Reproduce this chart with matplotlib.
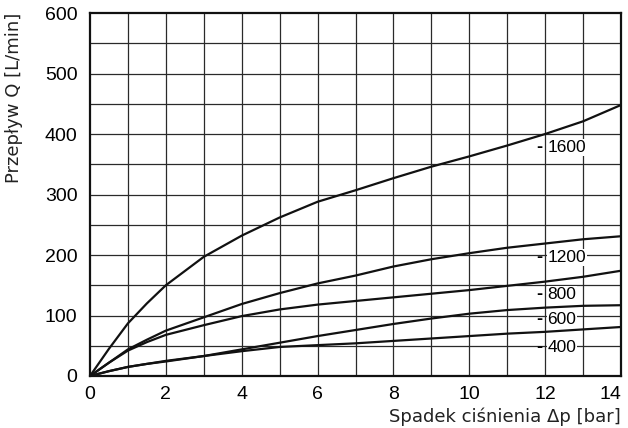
import matplotlib
matplotlib.use("Agg")
import matplotlib.pyplot as plt

# Pressure drop [bar] at which flow was read
dp = [0, 0.5, 1, 1.5, 2, 3, 4, 5, 6, 7, 8, 9, 10, 11, 12, 13, 14]

# Flow [L/min] for each valve size
q_1600 = [0, 45, 87, 120, 150, 197, 232, 262, 288, 307, 327, 346, 363, 381, 400, 421, 448]
q_1200 = [0, 22, 44, 60, 75, 97, 119, 137, 153, 166, 181, 193, 203, 212, 219, 226, 231]
q_800 = [0, 22, 42, 56, 68, 84, 99, 110, 118, 124, 130, 136, 142, 149, 156, 164, 174]
q_600 = [0, 8, 15, 20, 25, 33, 44, 55, 66, 76, 86, 95, 103, 109, 113, 116, 117]
q_400 = [0, 8, 15, 20, 24, 33, 41, 48, 51, 54, 58, 62, 66, 70, 73, 77, 81]

series_labels = ["1600", "1200", "800", "600", "400"]
series_values = [q_1600, q_1200, q_800, q_600, q_400]
label_y = [378, 196, 135, 94, 47]

x_ticks = [0, 2, 4, 6, 8, 10, 12, 14]
y_ticks = [0, 100, 200, 300, 400, 500, 600]

fig = plt.figure(figsize=(6.28, 4.28), dpi=100)
ax = fig.add_axes([0.1433, 0.1215, 0.8456, 0.8481])

ax.set_xlim(0, 14)
ax.set_ylim(0, 600)

# fine grid: every 1 bar and every 50 L/min
for gx in range(1, 14):
    ax.axvline(gx, color="#2a2a2a", lw=0.9, zorder=1)
for gy in range(50, 600, 50):
    ax.axhline(gy, color="#2a2a2a", lw=0.9, zorder=1)

for vals in series_values:
    ax.plot(dp, vals, color="#111111", lw=1.6, solid_capstyle="round", zorder=3)

for lab, ly in zip(series_labels, label_y):
    ax.text(11.76, ly, "-", fontsize=13, fontweight="bold", family="Liberation Sans",
            ha="left", va="center", zorder=4)
    ax.text(12.06, ly, lab, fontsize=12.5, family="Liberation Sans",
            ha="left", va="center", zorder=4,
            bbox=dict(boxstyle="square,pad=0.05", fc="white", ec="none"))

ax.set_xticks(x_ticks)
ax.set_yticks(y_ticks)
ax.tick_params(length=0, labelsize=14, pad=7)
ax.tick_params(axis="y", pad=9)
for t in ax.get_xticklabels() + ax.get_yticklabels():
    t.set_family("Liberation Sans")
# keep the last x label inside the figure edge
ax.get_xticklabels()[-1].set_horizontalalignment("right")

for s in ax.spines.values():
    s.set_linewidth(1.6)
    s.set_color("#111111")
    s.set_zorder(5)

fig.text(0.9889, 0.004, "Spadek ciśnienia Δp [bar]", ha="right", va="bottom",
         fontsize=13, family="DejaVu Sans", color="#222222")
fig.text(0.008, 0.9696, "Przepływ Q [L/min]", ha="left", va="top", rotation=90,
         fontsize=13, family="DejaVu Sans", color="#222222")

fig.savefig("out.png", dpi=100)
